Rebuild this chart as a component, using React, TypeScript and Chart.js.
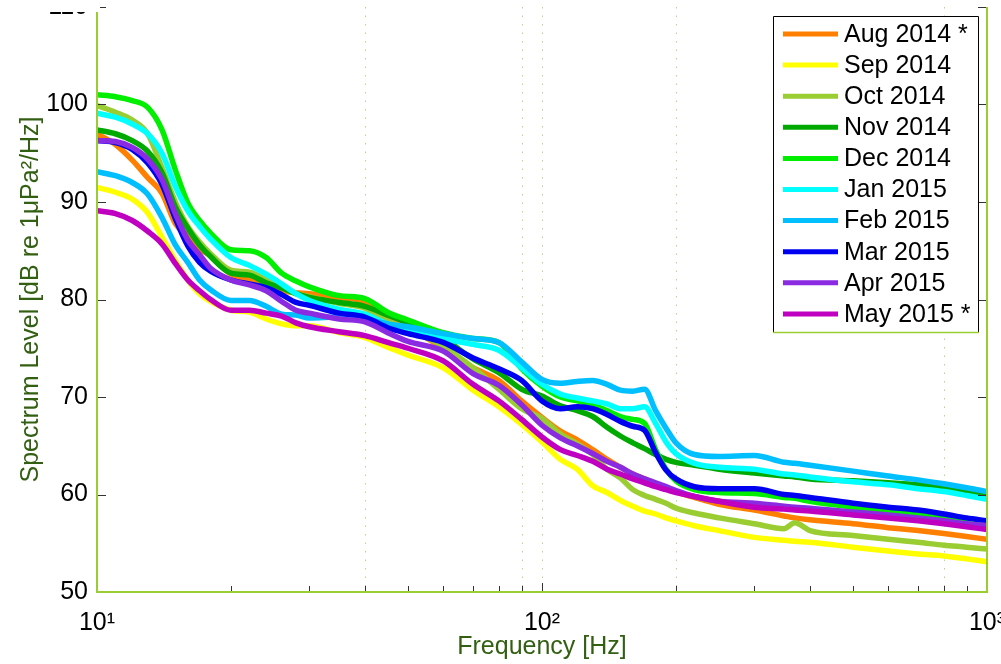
import React, { useEffect, useRef } from "react";
import { Chart, registerables } from "chart.js";

Chart.register(...registerables);

const FONT = '"Liberation Sans", Arial, Helvetica, sans-serif';

const FREQ_HZ = [10, 11, 12, 13, 14, 15, 16, 17, 18, 20, 22, 24, 26, 28, 30, 35, 40, 45, 50, 60, 70, 80, 90, 100, 110, 120, 130, 140, 150, 160, 170, 180, 190, 200, 220, 250, 300, 350, 370, 400, 500, 600, 700, 800, 900, 1000];

const SERIES_LABELS = ["Aug 2014 *", "Sep 2014", "Oct 2014", "Nov 2014", "Dec 2014", "Jan 2015", "Feb 2015", "Mar 2015", "Apr 2015", "May 2015 *"];
const SERIES_COLORS = ["#ff8000", "#ffff00", "#9acd32", "#00aa00", "#00ee00", "#00ffff", "#00bfff", "#0000f0", "#8a2be2", "#c000c0"];

const AUG_2014 = [97.0, 95.9, 94.3, 92.5, 90.9, 87.8, 86.5, 85.2, 84.5, 82.6, 82.0, 81.4, 80.9, 80.7, 80.6, 80.2, 79.8, 78.3, 77.2, 75.0, 73.0, 71.7, 69.6, 67.9, 66.5, 65.6, 64.6, 63.6, 62.8, 62.1, 61.6, 61.1, 60.7, 60.3, 59.7, 59.0, 58.4, 57.8, 57.6, 57.4, 57.0, 56.6, 56.3, 56.0, 55.7, 55.4];
const SEP_2014 = [91.5, 91.0, 90.3, 88.9, 86.4, 84.0, 82.0, 80.6, 79.8, 78.9, 78.7, 78.0, 77.5, 77.3, 77.3, 76.6, 76.1, 75.1, 74.3, 73.0, 70.7, 69.0, 67.2, 65.4, 63.6, 62.6, 60.9, 60.2, 59.4, 58.8, 58.3, 58.0, 57.6, 57.3, 56.8, 56.3, 55.6, 55.3, 55.2, 55.1, 54.6, 54.2, 53.9, 53.7, 53.4, 53.1];
const OCT_2014 = [99.9, 99.2, 98.4, 97.0, 93.5, 90.0, 87.5, 85.9, 84.7, 83.0, 82.8, 82.0, 81.2, 80.6, 80.3, 79.6, 79.1, 77.8, 77.0, 75.2, 73.0, 70.8, 68.8, 67.8, 66.2, 65.2, 64.1, 62.6, 61.7, 60.5, 59.9, 59.5, 59.1, 58.6, 58.1, 57.6, 57.0, 56.5, 57.1, 56.3, 55.8, 55.4, 55.1, 54.8, 54.6, 54.4];
const NOV_2014 = [97.4, 97.0, 96.3, 95.2, 93.0, 89.5, 87.3, 85.6, 84.4, 82.7, 82.5, 81.7, 81.2, 80.6, 80.2, 79.7, 79.3, 78.4, 77.6, 76.0, 73.9, 72.5, 70.8, 70.1, 69.1, 68.6, 68.0, 66.9, 66.0, 65.3, 64.7, 64.1, 63.6, 63.3, 63.0, 62.6, 62.2, 61.9, 61.8, 61.6, 61.4, 61.2, 61.0, 60.7, 60.4, 60.0];
const DEC_2014 = [101.0, 100.8, 100.4, 99.7, 97.4, 93.3, 89.9, 88.1, 86.8, 85.1, 85.0, 84.3, 82.7, 81.9, 81.3, 80.4, 80.1, 78.7, 77.9, 76.6, 76.0, 75.6, 72.9, 71.1, 70.0, 69.6, 69.2, 68.6, 68.0, 67.7, 67.3, 64.6, 62.6, 61.4, 60.5, 60.2, 60.1, 59.7, 59.6, 59.3, 58.7, 58.3, 57.9, 57.5, 57.1, 56.8];
const JAN_2015 = [99.1, 98.7, 98.0, 97.0, 95.0, 91.6, 89.1, 87.5, 86.2, 84.3, 83.5, 82.6, 81.6, 80.6, 79.9, 79.0, 78.5, 77.5, 77.0, 76.0, 75.4, 74.8, 73.0, 71.3, 70.3, 69.9, 69.6, 69.3, 68.8, 68.8, 69.0, 67.3, 65.4, 64.2, 63.2, 62.8, 62.6, 62.1, 62.0, 61.8, 61.3, 61.0, 60.6, 60.3, 59.9, 59.5];
const FEB_2015 = [93.1, 92.7, 92.0, 90.8, 88.4, 85.6, 83.8, 82.0, 81.0, 79.9, 79.9, 79.3, 78.5, 78.4, 78.1, 78.2, 78.0, 77.5, 77.2, 76.5, 76.0, 75.6, 73.6, 71.8, 71.4, 71.6, 71.7, 71.3, 70.7, 70.6, 70.8, 68.6, 66.8, 65.3, 64.1, 63.9, 64.0, 63.3, 63.2, 63.0, 62.4, 61.9, 61.5, 61.1, 60.7, 60.3];
const MAR_2015 = [96.3, 96.1, 95.4, 94.0, 91.8, 88.3, 85.5, 83.8, 82.9, 82.0, 81.6, 81.2, 80.5, 79.7, 79.4, 78.6, 78.2, 77.1, 76.5, 75.6, 74.0, 72.9, 71.7, 69.6, 68.8, 69.0, 68.8, 68.2, 67.5, 67.0, 66.6, 64.3, 62.5, 61.6, 60.8, 60.6, 60.6, 60.0, 59.9, 59.7, 59.1, 58.7, 58.4, 58.0, 57.6, 57.3];
const APR_2015 = [96.3, 96.2, 95.6, 94.4, 92.3, 88.8, 86.1, 84.6, 83.2, 82.0, 81.5, 80.9, 79.8, 78.9, 78.6, 78.0, 77.7, 76.6, 75.7, 74.7, 72.4, 71.2, 69.2, 67.1, 65.8, 65.0, 64.2, 63.4, 62.8, 62.1, 61.6, 61.2, 60.8, 60.4, 59.8, 59.3, 59.1, 58.8, 58.7, 58.6, 58.2, 57.9, 57.6, 57.3, 57.0, 56.8];
const MAY_2015 = [89.1, 88.8, 88.1, 87.0, 85.7, 83.7, 82.0, 80.9, 80.0, 78.9, 78.9, 78.6, 78.3, 77.6, 77.2, 76.7, 76.3, 75.6, 75.0, 73.7, 71.3, 69.6, 67.7, 65.9, 64.6, 64.0, 63.4, 62.6, 62.1, 61.6, 61.2, 60.8, 60.5, 60.2, 59.8, 59.3, 58.7, 58.5, 58.4, 58.3, 57.9, 57.6, 57.3, 57.0, 56.7, 56.4];

const SERIES_VALUES = [AUG_2014, SEP_2014, OCT_2014, NOV_2014, DEC_2014, JAN_2015, FEB_2015, MAR_2015, APR_2015, MAY_2015];

const Y_TICKS = [50, 60, 70, 80, 90, 100, 110];
const X_MAJOR_TICKS = [10, 100, 1000];
const X_TICK_LABELS = ["10¹", "10²", "10³"];
const X_MINOR_TICKS = [20, 30, 40, 50, 60, 70, 80, 90, 200, 300, 400, 500, 600, 700, 800, 900];
const X_DOTTED_GRID = [40, 90, 100, 200, 800];

const X_TITLE = "Frequency [Hz]";
const Y_TITLE = "Spectrum Level [dB re 1μPa²/Hz]";

const CANVAS_W = 1040;
const CANVAS_H = 700;
const SHIFT_Y = 20;
const AXIS_COLOR = "#9acd32";
const TITLE_COLOR = "#335f12";

const decorPlugin = {
  id: "decor",
  beforeDatasetsDraw(chart: any) {
    const { ctx, chartArea: a } = chart;
    const x = chart.scales.x;
    ctx.save();
    ctx.strokeStyle = "rgba(175,195,120,0.8)";
    ctx.lineWidth = 1;
    ctx.setLineDash([1.5, 7]);
    X_DOTTED_GRID.forEach((f) => {
      const px = Math.round(x.getPixelForValue(f)) + 0.5;
      ctx.beginPath();
      ctx.moveTo(px, a.top);
      ctx.lineTo(px, a.bottom);
      ctx.stroke();
    });
    ctx.restore();
  },
  afterDatasetsDraw(chart: any) {
    const { ctx, chartArea: a } = chart;
    const x = chart.scales.x;
    const y = chart.scales.y;
    ctx.save();
    ctx.strokeStyle = "#333";
    ctx.lineWidth = 1;
    Y_TICKS.forEach((v) => {
      const py = Math.round(y.getPixelForValue(v)) + 0.5;
      ctx.beginPath();
      ctx.moveTo(a.left + 1, py);
      ctx.lineTo(a.left + 9, py);
      ctx.moveTo(a.right - 9, py);
      ctx.lineTo(a.right - 1, py);
      ctx.stroke();
    });
    X_MINOR_TICKS.forEach((f) => {
      const px = Math.round(x.getPixelForValue(f)) + 0.5;
      ctx.beginPath();
      ctx.moveTo(px, a.bottom - 1);
      ctx.lineTo(px, a.bottom - 6);
      ctx.stroke();
    });
    X_MAJOR_TICKS.forEach((f) => {
      const px = Math.round(x.getPixelForValue(f)) + 0.5;
      ctx.beginPath();
      ctx.moveTo(px, a.bottom - 1);
      ctx.lineTo(px, a.bottom - 9);
      ctx.stroke();
    });
    ctx.strokeStyle = AXIS_COLOR;
    ctx.lineWidth = 2;
    ctx.beginPath();
    ctx.moveTo(a.left, a.top);
    ctx.lineTo(a.left, a.bottom);
    ctx.lineTo(a.right, a.bottom);
    ctx.lineTo(a.right, a.top);
    ctx.stroke();
    ctx.restore();
  },
  afterDraw(chart: any) {
    const { ctx } = chart;
    ctx.save();
    // top strip of the source figure is blank (cropped) above page y = 12
    ctx.fillStyle = "#fff";
    ctx.fillRect(0, 0, 100, SHIFT_Y + 12);

    const bx = 773;
    const by = 16 + SHIFT_Y;
    const bw = 206;
    const bh = 317;
    ctx.fillRect(bx, by, bw, bh);
    ctx.strokeStyle = "#000";
    ctx.lineWidth = 1;
    ctx.beginPath();
    ctx.moveTo(bx + 0.5, by + bh);
    ctx.lineTo(bx + 0.5, by + 0.5);
    ctx.lineTo(bx + bw - 0.5, by + 0.5);
    ctx.lineTo(bx + bw - 0.5, by + bh);
    ctx.stroke();
    ctx.strokeStyle = AXIS_COLOR;
    ctx.lineWidth = 1.5;
    ctx.beginPath();
    ctx.moveTo(bx, by + bh - 0.5);
    ctx.lineTo(bx + bw, by + bh - 0.5);
    ctx.stroke();
    ctx.font = `25px ${FONT}`;
    ctx.textBaseline = "middle";
    ctx.textAlign = "left";
    SERIES_LABELS.forEach((label, i) => {
      const ry = 34 + SHIFT_Y + i * 31.1;
      ctx.strokeStyle = SERIES_COLORS[i];
      ctx.lineWidth = 5;
      ctx.beginPath();
      ctx.moveTo(783, ry);
      ctx.lineTo(838, ry);
      ctx.stroke();
      ctx.fillStyle = "#000";
      ctx.fillText(label, 844, ry + 1);
    });
    ctx.restore();
  },
};

export default function App() {
  const ref = useRef<HTMLCanvasElement>(null);

  useEffect(() => {
    if (!ref.current) return;
    const n = SERIES_LABELS.length;
    const chart = new Chart(ref.current, {
      type: "line",
      data: {
        datasets: SERIES_LABELS.map((label, i) => ({
          label,
          data: FREQ_HZ.map((f, j) => ({ x: f, y: SERIES_VALUES[i][j] })),
          borderColor: SERIES_COLORS[i],
          backgroundColor: SERIES_COLORS[i],
          borderWidth: 5.5,
          pointRadius: 0,
          pointHoverRadius: 0,
          fill: false,
          cubicInterpolationMode: "monotone" as const,
          order: n - i,
        })),
      },
      options: {
        responsive: false,
        maintainAspectRatio: false,
        devicePixelRatio: 1,
        animation: false,
        events: [],
        layout: { padding: { left: 0, top: 27, right: 53, bottom: 0 } },
        plugins: {
          legend: { display: false },
          tooltip: { enabled: false },
        },
        scales: {
          x: {
            type: "logarithmic",
            min: 10,
            max: 1000,
            afterBuildTicks: (scale: any) => {
              scale.ticks = X_MAJOR_TICKS.map((v) => ({ value: v }));
            },
            afterFit: (scale: any) => {
              scale.height = 88;
            },
            grid: { display: false, drawTicks: false },
            border: { display: false },
            ticks: {
              autoSkip: false,
              maxRotation: 0,
              padding: 16,
              color: "#000",
              font: { family: FONT, size: 25 },
              callback: (value: any) => {
                const k = X_MAJOR_TICKS.indexOf(Number(value));
                return k >= 0 ? X_TICK_LABELS[k] : "";
              },
            },
            title: {
              display: true,
              text: X_TITLE,
              color: TITLE_COLOR,
              font: { family: FONT, size: 25, lineHeight: 1.2 },
              padding: { top: 0, bottom: 18 },
            },
          },
          y: {
            type: "linear",
            min: 50,
            max: 110,
            afterBuildTicks: (scale: any) => {
              scale.ticks = Y_TICKS.map((v) => ({ value: v }));
            },
            afterFit: (scale: any) => {
              scale.width = 97;
            },
            grid: { display: false, drawTicks: false },
            border: { display: false },
            ticks: {
              padding: 9,
              color: "#000",
              font: { family: FONT, size: 25 },
            },
            title: {
              display: true,
              text: Y_TITLE,
              color: TITLE_COLOR,
              font: { family: FONT, size: 25, lineHeight: 1.2 },
              padding: { top: 16, bottom: 0 },
            },
          },
        },
      },
      plugins: [decorPlugin],
    } as any);
    return () => chart.destroy();
  }, []);

  return (
    <div style={{ position: "fixed", left: 0, top: 0, width: 1001, height: 664, overflow: "hidden", background: "#fff" }}>
      <div style={{ position: "absolute", left: 0, top: -SHIFT_Y, width: CANVAS_W, height: CANVAS_H }}>
        <canvas ref={ref} width={CANVAS_W} height={CANVAS_H} style={{ display: "block", width: CANVAS_W, height: CANVAS_H }} />
      </div>
    </div>
  );
}
